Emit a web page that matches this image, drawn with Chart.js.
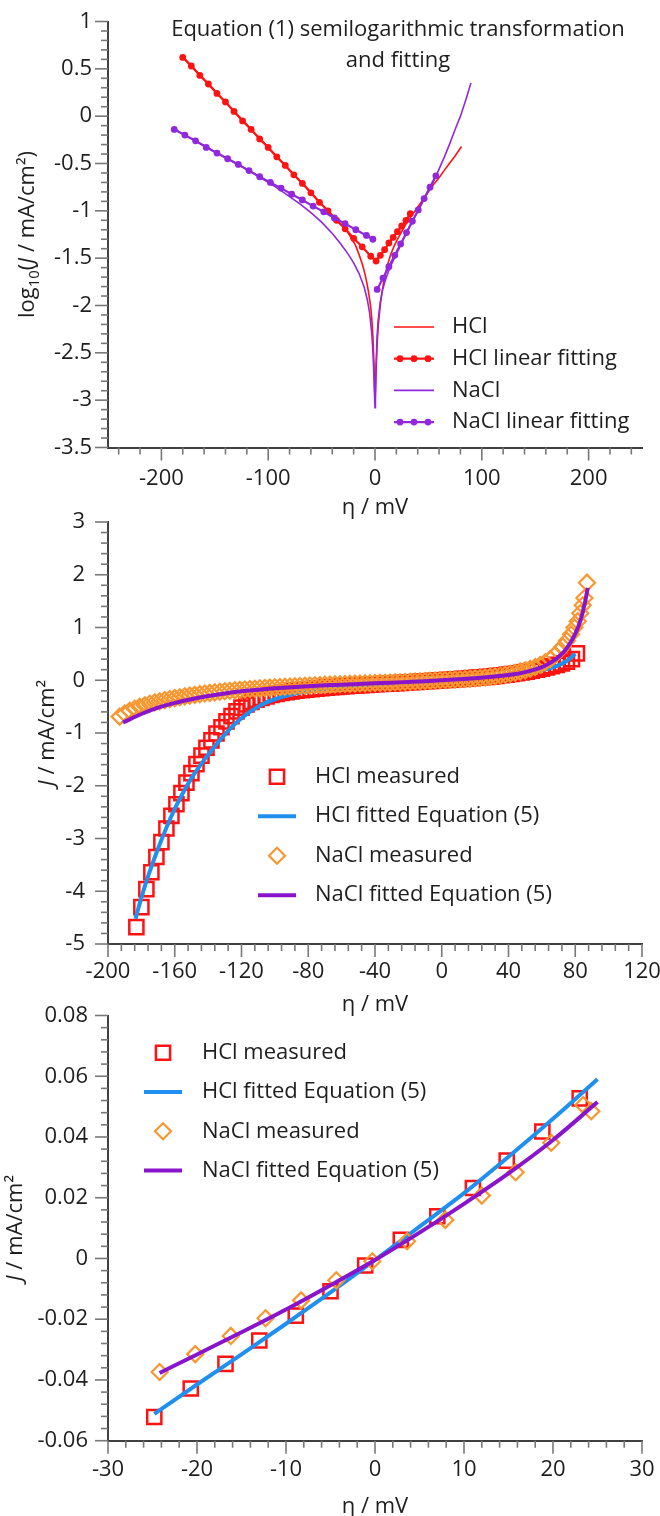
<!DOCTYPE html>
<html>
<head>
<meta charset="utf-8">
<script src="https://cdn.jsdelivr.net/npm/chart.js@4.4.1/dist/chart.umd.min.js"></script>
<style>
  html, body { margin: 0; padding: 0; background: #fff; }
  #wrap { position: relative; width: 660px; height: 1516px; }
  canvas { position: absolute; left: 0; }
</style>
</head>
<body>
<div id="wrap">
  <canvas id="c1" width="660" height="520" style="top:0px"></canvas>
  <canvas id="c2" width="660" height="522" style="top:500px"></canvas>
  <canvas id="c3" width="660" height="526" style="top:990px"></canvas>
</div>
<script>
// ---- panel 1: semilog, log10|J| vs eta ----
const semiHclEta = [-181, -170, -160, -150, -140, -130, -120, -110, -100, -90, -80, -70, -60, -50, -40, -32, -26, -22, -18, -15,
  -12, -10, -8, -6, -4, -3, -2, -1, -0.3, 0.2, 1, 2, 3, 4, 5, 6, 8, 10, 12, 15, 18, 22, 26, 30, 35, 40, 45, 50, 55, 60, 65, 70, 75, 81];
const semiHclLog = [0.64, 0.51, 0.39, 0.27, 0.15, 0.03, -0.09, -0.21, -0.33, -0.45, -0.57, -0.69, -0.81, -0.93, -1.05, -1.14, -1.22, -1.29, -1.37, -1.46,
  -1.56, -1.64, -1.74, -1.86, -2.02, -2.14, -2.32, -2.6, -2.9, -3.0, -2.7, -2.4, -2.22, -2.1, -1.99, -1.9, -1.76, -1.65, -1.56, -1.45,
  -1.37, -1.28, -1.2, -1.12, -1.04, -0.96, -0.88, -0.80, -0.72, -0.65, -0.57, -0.495, -0.42, -0.32];
const semiHclFitEta = [-180, -172, -164, -156, -148, -140, -132, -124, -116, -108, -100, -92, -84, -76, -68, -60, -52, -44, -36, -28,
  -20, -12, -4, 1, 5, 9, 13, 17, 21, 25, 29, 33];
const semiHclFitLog = [0.62, 0.53, 0.43, 0.34, 0.24, 0.15, 0.05, -0.05, -0.14, -0.24, -0.33, -0.43, -0.52, -0.62, -0.71, -0.81, -0.91, -1.0, -1.1, -1.19,
  -1.29, -1.38, -1.48, -1.53, -1.47, -1.41, -1.34, -1.28, -1.22, -1.16, -1.1, -1.03];
const semiNaclEta = [-190, -180, -170, -160, -150, -140, -130, -120, -110, -100, -90, -80, -70, -60, -50, -40, -32, -25, -20, -15,
  -10, -7, -5, -3, -2, -1, -0.4, 0, 0.4, 1, 2, 3, 5, 7, 10, 13, 16, 20, 25, 30, 36, 42, 47, 53, 58, 65, 70, 75, 80, 85, 89.8];
const semiNaclLog = [-0.12, -0.19, -0.25, -0.31, -0.375, -0.44, -0.5, -0.565, -0.63, -0.7, -0.77, -0.85, -0.93, -1.02, -1.12, -1.24, -1.35, -1.46, -1.55, -1.66,
  -1.81, -1.95, -2.08, -2.3, -2.48, -2.74, -2.97, -3.08, -2.95, -2.62, -2.32, -2.15, -1.96, -1.84, -1.72, -1.63, -1.55, -1.46, -1.34, -1.22,
  -1.09, -0.96, -0.85, -0.73, -0.61, -0.43, -0.29, -0.14, 0.0, 0.17, 0.35];
const semiNaclFitEta = [-188, -178, -168, -158, -148, -138, -128, -118, -108, -98, -88, -78, -68, -58, -48, -38, -28, -18, -8, -2,
  0, 2, 7.5, 13, 18.5, 24, 29.5, 35, 40.5, 46, 51.5, 57];
const semiNaclFitLog = [-0.14, -0.2, -0.26, -0.33, -0.39, -0.45, -0.51, -0.575, -0.64, -0.7, -0.76, -0.825, -0.885, -0.95, -1.01, -1.075, -1.135, -1.2, -1.26, -1.3,
  null, -1.83, -1.71, -1.59, -1.47, -1.35, -1.23, -1.11, -0.99, -0.87, -0.75, -0.63];

// ---- panel 2: full range J vs eta ----
const fullHclEta = [-183, -180, -177, -174, -171, -168, -165, -162, -159, -156,
  -153, -150, -147, -144, -141, -138, -135, -132, -129, -126,
  -123, -120, -117, -114, -111, -108, -105, -102, -99, -96,
  -93, -90, -87, -84, -81, -78, -75, -72, -69, -66,
  -63, -60, -57, -54, -51, -48, -45, -42, -39, -36,
  -33, -30, -27, -24, -21, -18, -15, -12, -9, -6,
  -3, 0, 3, 6, 9, 12, 15, 18, 21, 24,
  27, 30, 33, 36, 39, 42, 45, 48, 51, 54,
  57, 60, 63, 66, 69, 72, 75, 78, 81];
const fullHclJ = [-4.68, -4.30, -3.96, -3.64, -3.35, -3.07, -2.81, -2.57, -2.35, -2.14,
  -1.94, -1.76, -1.59, -1.43, -1.28, -1.14, -1.01, -0.89, -0.78, -0.68,
  -0.59, -0.52, -0.46, -0.41, -0.37, -0.335, -0.305, -0.28, -0.26, -0.24,
  -0.225, -0.21, -0.198, -0.187, -0.177, -0.167, -0.158, -0.149, -0.141, -0.133,
  -0.126, -0.119, -0.112, -0.105, -0.099, -0.093, -0.087, -0.081, -0.076, -0.07,
  -0.065, -0.06, -0.055, -0.05, -0.043, -0.037, -0.03, -0.024, -0.018, -0.012,
  -0.006, 0.0, 0.006, 0.012, 0.019, 0.026, 0.033, 0.041, 0.049, 0.056,
  0.064, 0.073, 0.083, 0.094, 0.106, 0.119, 0.133, 0.148, 0.164, 0.181,
  0.2, 0.22, 0.242, 0.266, 0.292, 0.32, 0.352, 0.40, 0.51];
const fullHclFitEta = [-183.5, -180, -176, -172, -168, -164, -160, -156, -152, -148,
  -144, -140, -136, -132, -128, -124, -120, -115, -110, -105,
  -100, -95, -90, -80, -70, -60, -50, -40, -30, -20,
  -10, 0, 10, 20, 30, 40, 50, 60, 65, 70, 75, 80];
const fullHclFitJ = [-4.52, -4.12, -3.72, -3.36, -3.03, -2.72, -2.44, -2.19, -1.96, -1.76,
  -1.58, -1.41, -1.25, -1.10, -0.96, -0.83, -0.72, -0.60, -0.50, -0.42,
  -0.36, -0.31, -0.27, -0.21, -0.165, -0.13, -0.102, -0.078, -0.06, -0.0415,
  -0.0215, -0.0005, 0.0215, 0.046, 0.073, 0.105, 0.146, 0.19, 0.23, 0.285, 0.37, 0.50];
const fullNaclEta = [-193, -190, -187, -184, -181, -178, -175, -172, -169, -166,
  -163, -160, -157, -154, -151, -148, -145, -142, -139, -136,
  -133, -130, -127, -124, -121, -118, -115, -112, -109, -106,
  -103, -100, -97, -94, -91, -88, -85, -82, -79, -76,
  -73, -70, -67, -64, -61, -58, -55, -52, -49, -46,
  -43, -40, -37, -34, -31, -28, -25, -22, -19, -16,
  -13, -10, -7, -4, -1, 2, 5, 8, 11, 14,
  17, 20, 23, 26, 29, 32, 35, 38, 41, 44,
  47, 50, 53, 56, 59, 62, 65, 67.5, 70, 72.5,
  75, 77.5, 79.5, 81.5, 83, 84.5, 85.5, 87];
const fullNaclJ = [-0.69, -0.63, -0.58, -0.54, -0.505, -0.473, -0.445, -0.42, -0.397, -0.376,
  -0.357, -0.339, -0.322, -0.306, -0.291, -0.277, -0.264, -0.252, -0.24, -0.229,
  -0.219, -0.209, -0.2, -0.191, -0.183, -0.175, -0.167, -0.16, -0.153, -0.146,
  -0.14, -0.134, -0.128, -0.123, -0.118, -0.113, -0.108, -0.103, -0.099, -0.095,
  -0.091, -0.087, -0.083, -0.079, -0.075, -0.072, -0.068, -0.065, -0.062, -0.059,
  -0.056, -0.053, -0.05, -0.047, -0.044, -0.041, -0.038, -0.034, -0.029, -0.025,
  -0.02, -0.015, -0.011, -0.006, -0.001, 0.004, 0.009, 0.014, 0.019, 0.025,
  0.031, 0.037, 0.045, 0.054, 0.064, 0.076, 0.09, 0.105, 0.122, 0.141,
  0.163, 0.188, 0.216, 0.25, 0.29, 0.34, 0.40, 0.47, 0.55, 0.64,
  0.75, 0.87, 1.0, 1.12, 1.27, 1.42, 1.56, 1.85];
const fullNaclFitEta = [-191, -180, -170, -160, -150, -140, -130, -120, -110, -100,
  -90, -80, -70, -60, -50, -40, -30, -20, -10, 0,
  10, 20, 30, 40, 50, 60, 65, 70, 75, 80, 83, 86, 87.5];
const fullNaclFitJ = [-0.80, -0.64, -0.52, -0.43, -0.36, -0.30, -0.25, -0.21, -0.178, -0.152,
  -0.131, -0.113, -0.097, -0.083, -0.07, -0.058, -0.046, -0.0316, -0.0168, -0.0005,
  0.018, 0.039, 0.066, 0.10, 0.155, 0.25, 0.33, 0.44, 0.61, 0.88, 1.12, 1.5, 1.75];

// ---- panel 3: zoom around 0 ----
const zoomHclEta = [-24.8, -20.7, -16.8, -13.0, -8.9, -5.0, -1.1, 2.9, 7.0, 11.0, 14.8, 18.8, 23.0];
const zoomHclJ = [-0.0522, -0.0428, -0.0347, -0.027, -0.0188, -0.0108, -0.0023, 0.0061, 0.0139, 0.0232, 0.0322, 0.0418, 0.0527];
const zoomHclFitEta = [-24.8, -20, -15, -10, -5, 0, 5, 10, 15, 20, 25];
const zoomHclFitJ = [-0.0512, -0.0415, -0.0316, -0.0215, -0.0112, -0.0005, 0.0105, 0.0215, 0.0335, 0.046, 0.059];
const zoomNaclEta = [-24.2, -20.2, -16.2, -12.3, -8.3, -4.35, -0.3, 3.6, 7.9, 12.0, 15.8, 19.8, 23.4, 24.3];
const zoomNaclJ = [-0.0374, -0.0315, -0.0255, -0.0197, -0.0138, -0.0072, -0.0009, 0.0057, 0.0127, 0.0207, 0.0284, 0.0381, 0.0505, 0.0485];
const zoomNaclFitEta = [-24.2, -20, -15, -10, -5, 0, 5, 10, 15, 20, 25];
const zoomNaclFitJ = [-0.0377, -0.0316, -0.0243, -0.0168, -0.0088, -0.0005, 0.0085, 0.018, 0.028, 0.039, 0.0515];

Chart.defaults.font.family = "'Open Sans', 'DejaVu Sans', sans-serif";
Chart.defaults.font.size = 22;
Chart.defaults.color = '#1e1e1e';

const RED = '#ff1212', BLUE = '#1f8ff0', ORANGE = '#f8962f', PURPLE = '#8a14cc', VIOLET = '#9128dc';
const FONT = "'Open Sans', 'DejaVu Sans', sans-serif";

const pts = (xs, ys) => xs.map((x, i) => ({ x: x, y: ys[i] }));
const num = v => String(+(+v).toFixed(4));

// mixed text: segments with optional italic / subscript
function rich(ctx, segs, cx, cy, size, angle) {
  const fontOf = s => (s.it ? 'italic ' : '') + (s.sub ? Math.round(size * 0.68) : size) + 'px ' + FONT;
  ctx.save();
  ctx.translate(cx, cy);
  ctx.rotate(angle);
  ctx.textBaseline = 'middle';
  ctx.textAlign = 'left';
  ctx.fillStyle = '#1e1e1e';
  let w = 0;
  segs.forEach(s => { ctx.font = fontOf(s); w += ctx.measureText(s.t).width; });
  let x = -w / 2;
  segs.forEach(s => {
    ctx.font = fontOf(s);
    ctx.fillText(s.t, x, s.sub ? size * 0.3 : 0);
    x += ctx.measureText(s.t).width;
  });
  ctx.restore();
}

const decor = {
  id: 'decor',
  afterDraw(chart, args, o) {
    const ctx = chart.ctx, a = chart.chartArea;
    ctx.save();
    ctx.strokeStyle = '#787878';
    ctx.lineWidth = 1.6;
    const marks = (scale, major, minor, horiz) => {
      const k0 = Math.ceil(scale.min / minor - 1e-6);
      const k1 = Math.floor(scale.max / minor + 1e-6);
      for (let k = k0; k <= k1; k++) {
        const v = k * minor;
        const r = v / major;
        const len = Math.abs(r - Math.round(r)) < 1e-6 ? 13 : 7;
        const p = scale.getPixelForValue(v);
        ctx.beginPath();
        if (horiz) { ctx.moveTo(p, a.bottom); ctx.lineTo(p, a.bottom + len); }
        else { ctx.moveTo(a.left - len, p); ctx.lineTo(a.left, p); }
        ctx.stroke();
      }
    };
    marks(chart.scales.x, o.xMajor, o.xMinor, true);
    marks(chart.scales.y, o.yMajor, o.yMinor, false);
    ctx.restore();

    rich(ctx, [{ t: 'η / mV' }], (a.left + a.right) / 2, a.bottom + o.xTitleDy, 22, 0);
    rich(ctx, o.yTitle, o.yTitleX, (a.top + a.bottom) / 2, 22, -Math.PI / 2);

    if (o.note) {
      ctx.save();
      ctx.font = '22px ' + FONT;
      ctx.fillStyle = '#1e1e1e';
      ctx.textAlign = 'center';
      ctx.textBaseline = 'middle';
      o.note.lines.forEach((t, i) => ctx.fillText(t, o.note.x, o.note.y0 + i * o.note.dy));
      ctx.restore();
    }

    const lg = o.legend;
    lg.order.forEach((idx, n) => {
      const ds = chart.data.datasets[idx];
      const y = lg.y0 + n * lg.dy, cx = lg.symX;
      ctx.save();
      if (ds.showLine) {
        ctx.strokeStyle = ds.borderColor;
        ctx.lineWidth = ds.borderWidth;
        ctx.beginPath(); ctx.moveTo(cx - lg.half, y); ctx.lineTo(cx + lg.half, y); ctx.stroke();
        if (ds.pointRadius > 0) {
          ctx.fillStyle = ds.pointBackgroundColor;
          [-14, 0, 14].forEach(d => { ctx.beginPath(); ctx.arc(cx + d, y, ds.pointRadius, 0, Math.PI * 2); ctx.fill(); });
        }
      } else {
        const r = ds.pointRadius;
        ctx.strokeStyle = ds.pointBorderColor;
        ctx.lineWidth = ds.pointBorderWidth;
        ctx.beginPath();
        if (ds.pointStyle === 'rect') {
          const h = r * Math.SQRT1_2;
          ctx.rect(cx - h, y - h, 2 * h, 2 * h);
        } else {
          ctx.moveTo(cx - r, y); ctx.lineTo(cx, y - r); ctx.lineTo(cx + r, y); ctx.lineTo(cx, y + r); ctx.closePath();
        }
        ctx.stroke();
      }
      ctx.font = '22px ' + FONT;
      ctx.fillStyle = '#1e1e1e';
      ctx.textAlign = 'left';
      ctx.textBaseline = 'middle';
      ctx.fillText(ds.label, lg.textX, y);
      ctx.restore();
    });
  }
};

// labelled ticks only on multiples of the major step
function majorTicks(step) {
  return s => {
    const out = [];
    const k0 = Math.ceil(s.min / step - 1e-6), k1 = Math.floor(s.max / step + 1e-6);
    for (let k = k0; k <= k1; k++) out.push({ value: +(k * step).toFixed(6) });
    s.ticks = out;
  };
}

function axes(o) {
  return {
    x: {
      type: 'linear', min: o.xMin, max: o.xMax,
      afterBuildTicks: majorTicks(o.xMajor),
      ticks: { autoSkip: false, maxRotation: 0, padding: o.xPad, callback: num },
      grid: { display: false, drawTicks: false },
      border: { display: true, color: '#404040', width: 2 },
      afterFit(s) { s.height = o.xBox; s.paddingLeft = 0; s.paddingRight = 0; }
    },
    y: {
      type: 'linear', min: o.yMin, max: o.yMax,
      afterBuildTicks: majorTicks(o.yMajor),
      ticks: { autoSkip: false, padding: o.yPad, callback: num },
      grid: { display: false, drawTicks: false },
      border: { display: true, color: '#404040', width: 2 },
      afterFit(s) { s.width = 108; s.paddingTop = 0; s.paddingBottom = 0; }
    }
  };
}

function base(top, sc, dec) {
  return {
    responsive: false,
    animation: false,
    layout: { padding: { top: top, right: 18, left: 0, bottom: 0 } },
    scales: axes(sc),
    plugins: { legend: { display: false }, tooltip: { enabled: false }, decor: dec }
  };
}

const jTitle = [{ t: 'J', it: true }, { t: ' / mA/cm²' }];

new Chart(document.getElementById('c1'), {
  type: 'scatter',
  data: {
    datasets: [
      { label: 'HCl', data: pts(semiHclEta, semiHclLog), showLine: true, borderColor: RED, borderWidth: 1.6, pointRadius: 0, tension: 0, order: 4 },
      { label: 'HCl linear fitting', data: pts(semiHclFitEta, semiHclFitLog), showLine: true, borderColor: RED, borderWidth: 2.2,
        pointRadius: 3.4, pointBackgroundColor: RED, pointBorderWidth: 0, order: 2 },
      { label: 'NaCl', data: pts(semiNaclEta, semiNaclLog), showLine: true, borderColor: VIOLET, borderWidth: 1.6, pointRadius: 0, tension: 0, order: 3 },
      { label: 'NaCl linear fitting', data: pts(semiNaclFitEta, semiNaclFitLog), showLine: true, borderColor: VIOLET, borderWidth: 2.2,
        pointRadius: 3.4, pointBackgroundColor: VIOLET, pointBorderWidth: 0, order: 1 }
    ]
  },
  options: base(21.5,
    { xMin: -250, xMax: 250, xMajor: 100, yMin: -3.5, yMax: 1, yMajor: 0.5, xPad: 18, yPad: 16, xBox: 72.5 },
    { xMajor: 100, xMinor: 20, yMajor: 0.5, yMinor: 0.1, xTitleDy: 60, yTitleX: 28,
      yTitle: [{ t: 'log' }, { t: '10', sub: true }, { t: '(' }, { t: 'J', it: true }, { t: ' / mA/cm²)' }],
      note: { lines: ['Equation (1) semilogarithmic transformation', 'and fitting'], x: 398, y0: 30, dy: 31 },
      legend: { order: [0, 1, 2, 3], symX: 414, half: 20, textX: 452, y0: 327, dy: 31.7 } }),
  plugins: [decor]
});

new Chart(document.getElementById('c2'), {
  type: 'scatter',
  data: {
    datasets: [
      { label: 'HCl measured', data: pts(fullHclEta, fullHclJ), showLine: false, pointStyle: 'rect', pointRadius: 10,
        pointBorderColor: RED, pointBackgroundColor: 'rgba(0,0,0,0)', pointBorderWidth: 2.5, order: 4 },
      { label: 'HCl fitted Equation (5)', data: pts(fullHclFitEta, fullHclFitJ), showLine: true, borderColor: BLUE, borderWidth: 4,
        pointRadius: 0, cubicInterpolationMode: 'monotone', order: 3 },
      { label: 'NaCl measured', data: pts(fullNaclEta, fullNaclJ), showLine: false, pointStyle: 'rectRot', pointRadius: 8,
        pointBorderColor: ORANGE, pointBackgroundColor: 'rgba(0,0,0,0)', pointBorderWidth: 2.2, order: 2 },
      { label: 'NaCl fitted Equation (5)', data: pts(fullNaclFitEta, fullNaclFitJ), showLine: true, borderColor: PURPLE, borderWidth: 4,
        pointRadius: 0, cubicInterpolationMode: 'monotone', order: 1 }
    ]
  },
  options: base(22,
    { xMin: -200, xMax: 120, xMajor: 40, yMin: -5, yMax: 3, yMajor: 1, xPad: 15, yPad: 23, xBox: 78 },
    { xMajor: 40, xMinor: 8, yMajor: 1, yMinor: 0.2, xTitleDy: 61, yTitleX: 48, yTitle: jTitle,
      legend: { order: [0, 1, 2, 3], symX: 277, half: 19, textX: 315, y0: 276.7, dy: 39.5 } }),
  plugins: [decor]
});

new Chart(document.getElementById('c3'), {
  type: 'scatter',
  data: {
    datasets: [
      { label: 'HCl measured', data: pts(zoomHclEta, zoomHclJ), showLine: false, pointStyle: 'rect', pointRadius: 10,
        pointBorderColor: RED, pointBackgroundColor: 'rgba(0,0,0,0)', pointBorderWidth: 2.5, order: 4 },
      { label: 'HCl fitted Equation (5)', data: pts(zoomHclFitEta, zoomHclFitJ), showLine: true, borderColor: BLUE, borderWidth: 4,
        pointRadius: 0, cubicInterpolationMode: 'monotone', order: 3 },
      { label: 'NaCl measured', data: pts(zoomNaclEta, zoomNaclJ), showLine: false, pointStyle: 'rectRot', pointRadius: 8,
        pointBorderColor: ORANGE, pointBackgroundColor: 'rgba(0,0,0,0)', pointBorderWidth: 2.2, order: 2 },
      { label: 'NaCl fitted Equation (5)', data: pts(zoomNaclFitEta, zoomNaclFitJ), showLine: true, borderColor: PURPLE, borderWidth: 4,
        pointRadius: 0, cubicInterpolationMode: 'monotone', order: 1 }
    ]
  },
  options: base(25.5,
    { xMin: -30, xMax: 30, xMajor: 10, yMin: -0.06, yMax: 0.08, yMajor: 0.02, xPad: 16, yPad: 20, xBox: 75.3 },
    { xMajor: 10, xMinor: 2, yMajor: 0.02, yMinor: 0.004, xTitleDy: 66, yTitleX: 16, yTitle: jTitle,
      legend: { order: [0, 1, 2, 3], symX: 163, half: 19, textX: 202, y0: 62.7, dy: 39.3 } }),
  plugins: [decor]
});
</script>
</body>
</html>
